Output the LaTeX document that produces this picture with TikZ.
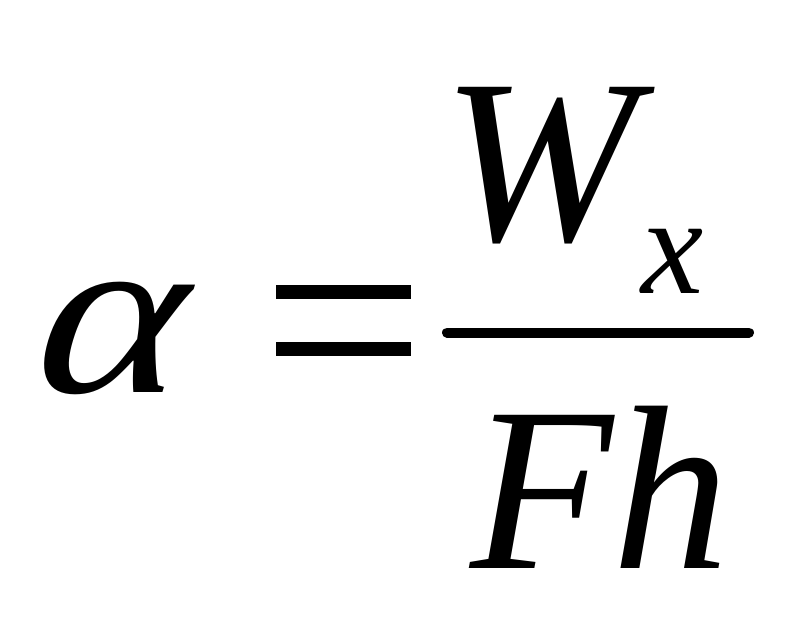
\documentclass[tikz,border=0pt]{standalone}
\usepackage{graphicx}
\usepackage{fontspec}
\setmainfont{Liberation Serif}
\newfontfamily\alphafont[FakeSlant=0.25]{Liberation Serif}
\begin{document}
\begin{tikzpicture}[x=1pt,y=-1pt,
  glyph/.style={inner sep=0pt,outer sep=0pt,anchor=base west,font=\fontsize{234}{280}\selectfont\itshape},
  alphaglyph/.style={inner sep=0pt,outer sep=0pt,anchor=base west,font=\fontsize{234}{280}\alphafont},
  subglyph/.style={inner sep=0pt,outer sep=0pt,anchor=base west,font=\fontsize{140}{170}\selectfont\itshape},
  bar/.style={fill=black,draw=none}]
\useasboundingbox (0,0) rectangle (801,625);
\node[alphaglyph] (alpha) at (22,392) {\scalebox{1.2}[1]{α}};
\fill[bar] (276,285) rectangle (411,299);
\fill[bar] (276,342) rectangle (411,356);
\coordinate (fl) at (447,332.5);
\coordinate (fr) at (749,332.5);
\draw[line width=10pt,line cap=round] (fl) -- (fr);
\node[glyph] (W) at (442,240) {W};
\node[subglyph] (x) at (641,293) {x};
\node[glyph] (Fh) at (470,568) {Fh};
\end{tikzpicture}
\end{document}
